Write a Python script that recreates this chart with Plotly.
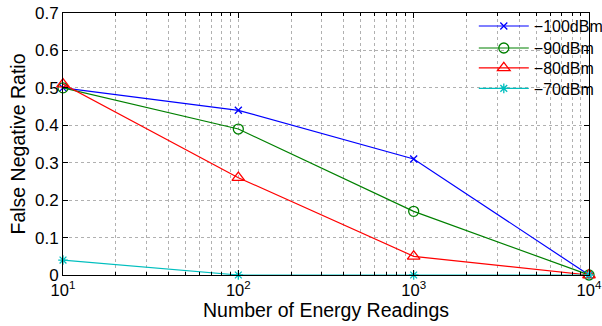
import plotly.graph_objects as go

x_vals = [10, 100, 1000, 10000]
s100 = [0.50, 0.44, 0.31, 0.0]
s90 = [0.50, 0.39, 0.17, 0.0]
s80 = [0.51, 0.26, 0.05, 0.0]
s70 = [0.04, 0.0, 0.0, 0.0]
names = ["\u2212100dBm", "\u221290dBm", "\u221280dBm", "\u221270dBm"]
x_tick_vals = [10, 100, 1000, 10000]
x_tick_text = ["10<sup>1</sup>", "10<sup>2</sup>", "10<sup>3</sup>", "10<sup>4</sup>"]
y_tick_vals = [0, 0.1, 0.2, 0.3, 0.4, 0.5, 0.6, 0.7]
y_tick_text = ["0", "0.1", "0.2", "0.3", "0.4", "0.5", "0.6", "0.7"]

colors = ["#0000ff", "#008000", "#ff0000", "#00bfbf"]
symbols = ["x-thin-open", "circle-open", "triangle-up-open", "asterisk-open"]
sizes = [7, 10, 11, 8]
legend_ids = ["legend", "legend2", "legend3", "legend4"]
legend_y = [0.950, 0.866, 0.790, 0.712]

fig = go.Figure()
for ys, n, c, s, sz, lg in zip([s100, s90, s80, s70], names, colors, symbols, sizes, legend_ids):
    fig.add_trace(go.Scatter(
        x=x_vals, y=ys, name=n, mode="lines+markers",
        line=dict(color=c, width=1.2),
        marker=dict(symbol=s, size=sz, color=c, line=dict(color=c, width=1.3)),
        cliponaxis=False, legend=lg,
    ))

grid_col = "#b0b0b0"
layout_legends = {}
for lg, ly in zip(legend_ids, legend_y):
    layout_legends[lg] = dict(x=0.781, y=ly, xanchor="left", yanchor="middle",
                              bgcolor="rgba(0,0,0,0)", borderwidth=0,
                              font=dict(size=16), itemwidth=50)

fig.update_layout(
    width=602, height=326,
    margin=dict(l=63, r=13, t=13, b=51, autoexpand=False),
    paper_bgcolor="white", plot_bgcolor="white",
    font=dict(family="Liberation Sans, Arial, sans-serif", size=15, color="black"),
    showlegend=True,
    **layout_legends,
)
fig.update_xaxes(
    type="log", range=[1, 4], automargin=False,
    tickmode="array", tickvals=x_tick_vals, ticktext=x_tick_text,
    showline=True, linecolor="black", linewidth=1, mirror="ticks",
    ticks="inside", ticklen=5, tickcolor="black",
    showgrid=True, gridcolor=grid_col, griddash="dot", gridwidth=1,
    minor=dict(ticks="inside", ticklen=3, tickcolor="black", showgrid=True,
               gridcolor=grid_col, griddash="dot", dtick="D1"),
    zeroline=False,
    title=dict(text="Number of Energy Readings", font=dict(size=19.5), standoff=0),
    tickfont=dict(size=16.5),
)
fig.update_yaxes(
    range=[0, 0.7], automargin=False,
    tickmode="array", tickvals=y_tick_vals, ticktext=y_tick_text,
    showline=True, linecolor="black", linewidth=1, mirror="ticks",
    ticks="inside", ticklen=5, tickcolor="black",
    showgrid=True, gridcolor=grid_col, griddash="dot", gridwidth=1,
    zeroline=False,
    title=dict(text="False Negative Ratio", font=dict(size=19.5), standoff=4),
    tickfont=dict(size=17),
)
fig.write_html(
    "out.html",
    config={"displayModeBar": False},
    post_script="document.body.style.margin='0';document.body.style.overflow='hidden';",
)
